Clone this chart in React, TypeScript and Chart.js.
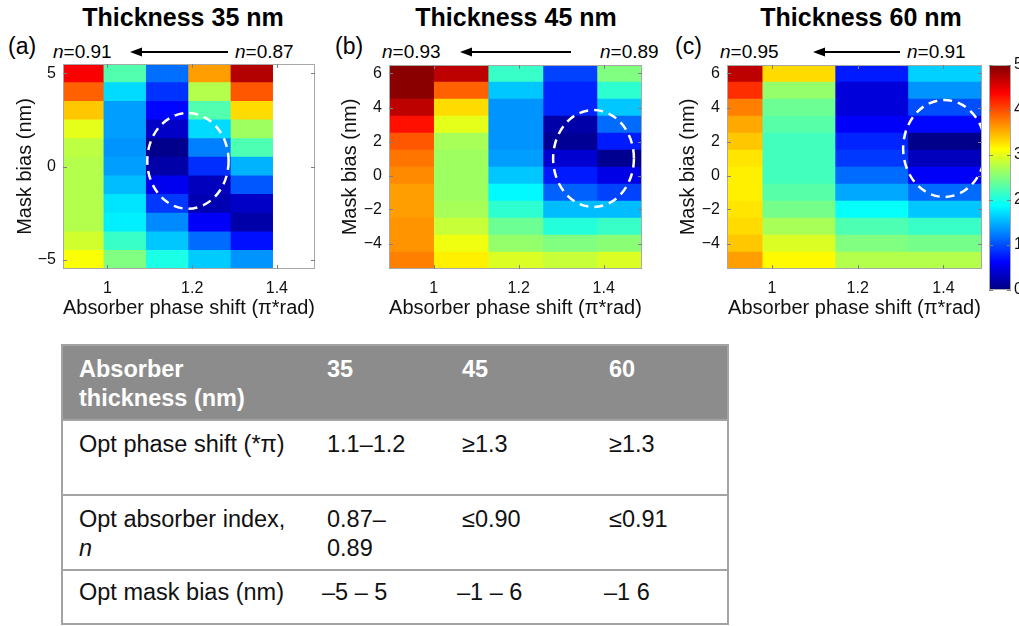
import React, { useEffect, useRef } from 'react';
import { Chart, registerables } from 'chart.js';

Chart.register(...registerables);

// ---------------- data ----------------
const phaseTicks = [1, 1.2, 1.4];
const phaseRange = [0.895, 1.49];
const colorRange = [0, 5];
const colorbarTicks = [0, 1, 2, 3, 4, 5];

const panelTitles = ['Thickness 35 nm', 'Thickness 45 nm', 'Thickness 60 nm'];
const panelLetters = ['(a)', '(b)', '(c)'];
const nLeftLabels = ['0.91', '0.93', '0.95'];
const nRightLabels = ['0.87', '0.89', '0.91'];

// Panel (a) : 35 nm
const biasA = [5, 4, 3, 2, 1, 0, -1, -2, -3, -4, -5];
const biasTicksA = [5, 0, -5];
const edgesA = [0.895, 0.99, 1.09, 1.19, 1.29, 1.39];
const a1 = [4.4, 3.9, 3.4, 3.0, 2.8, 2.75, 2.75, 2.75, 2.75, 2.9, 3.1];
const a2 = [2.27, 1.7, 1.4, 1.4, 1.35, 1.4, 1.55, 1.75, 1.8, 2.15, 2.5];
const a3 = [1.17, 0.87, 0.65, 0.35, 0.06, 0.2, 0.55, 0.9, 1.3, 1.6, 2.0];
const a4 = [3.6, 2.75, 2.27, 1.7, 1.25, 0.85, 0.3, 0.25, 0.6, 1.15, 1.62];
const a5 = [4.75, 3.95, 3.3, 2.65, 2.25, 1.5, 1.05, 0.35, 0.2, 0.7, 1.35];
const heatA = [a1, a2, a3, a4, a5];
const ellipseA = [1.19, 0.3, 0.096, 2.57]; // cx, cy, rx, ry

// Panel (b) : 45 nm
const biasB = [6, 5, 4, 3, 2, 1, 0, -1, -2, -3, -4, -5];
const biasTicksB = [6, 4, 2, 0, -2, -4];
const edgesB = [0.895, 1.0, 1.128, 1.257, 1.384, 1.49];
const b1 = [4.95, 4.95, 4.7, 4.3, 3.95, 3.8, 3.7, 3.6, 3.6, 3.65, 3.65, 3.75];
const b2 = [4.7, 3.9, 3.3, 3.0, 2.7, 2.65, 2.65, 2.65, 2.7, 2.85, 3.05, 3.2];
const b3 = [2.15, 1.6, 1.35, 1.35, 1.35, 1.4, 1.6, 1.85, 2.1, 2.4, 2.6, 2.95];
const b4 = [0.95, 0.8, 0.8, 0.2, 0.1, 0.4, 0.75, 1.1, 1.55, 2.05, 2.5, 2.85];
const b5 = [2.5, 2.1, 1.6, 1.15, 0.75, 0.08, 0.5, 0.95, 1.55, 2.15, 2.55, 2.95];
const heatB = [b1, b2, b3, b4, b5];
const ellipseB = [1.376, 1.0, 0.095, 2.85];

// Panel (c) : 60 nm
const biasC = [6, 5, 4, 3, 2, 1, 0, -1, -2, -3, -4, -5];
const biasTicksC = [6, 4, 2, 0, -2, -4];
const edgesC = [0.895, 0.977, 1.147, 1.317, 1.49];
const c1 = [4.7, 4.15, 3.75, 3.55, 3.4, 3.25, 3.2, 3.2, 3.25, 3.3, 3.4, 3.6];
const c2 = [3.3, 2.6, 2.4, 2.3, 2.2, 2.2, 2.2, 2.3, 2.45, 2.7, 2.95, 3.15];
const c3 = [0.75, 0.45, 0.45, 0.6, 0.8, 0.9, 1.15, 1.45, 1.9, 2.25, 2.5, 2.75];
const c4 = [1.65, 1.35, 1.0, 0.65, 0.05, 0.3, 0.6, 1.15, 1.6, 2.15, 2.45, 2.75];
const heatC = [c1, c2, c3, c4];
const ellipseC = [1.402, 1.59, 0.096, 2.85];

// Table
const tableHeader = ['Absorber thickness (nm)', '35', '45', '60'];
const rowPhase = ['Opt phase shift (*π)', '1.1–1.2', '≥1.3', '≥1.3'];
const rowIndexLabel = ['Opt absorber index,', 'n'];
const rowIndex = ['0.87–|0.89', '≤0.90', '≤0.91'];
const rowBias = ['Opt mask bias (nm)', '–5 – 5', '–1 – 6', '–1 6'];

// ---------------- helpers ----------------
const FONT = "'Liberation Sans', Arial, Helvetica, sans-serif";

function jet(v: number): string {
  const t = Math.max(0, Math.min(1, (v - colorRange[0]) / (colorRange[1] - colorRange[0])));
  const c = (x: number) => Math.round(255 * Math.max(0, Math.min(1, x)));
  return `rgb(${c(1.5 - Math.abs(4 * t - 3))},${c(1.5 - Math.abs(4 * t - 2))},${c(1.5 - Math.abs(4 * t - 1))})`;
}

function fmtTick(v: number): string {
  return v < 0 ? '\u2212' + String(Math.abs(v)) : String(v);
}

const framePlugin = {
  id: 'frame',
  afterDatasetsDraw(chart: any) {
    const { ctx, chartArea: a, scales } = chart;
    ctx.save();
    ctx.strokeStyle = '#a8a8a8';
    ctx.lineWidth = 1;
    ctx.strokeRect(a.left + 0.5, a.top + 0.5, a.right - a.left - 1, a.bottom - a.top - 1);
    ctx.strokeStyle = '#808080';
    ctx.beginPath();
    const x = scales.x;
    const y = scales.y;
    if (x && x.options.display !== false) {
      for (const t of x.ticks) {
        const px = Math.round(x.getPixelForValue(t.value)) + 0.5;
        ctx.moveTo(px, a.bottom);
        ctx.lineTo(px, a.bottom - 4);
        ctx.moveTo(px, a.top);
        ctx.lineTo(px, a.top + 4);
      }
    }
    if (y) {
      for (const t of y.ticks) {
        const py = Math.round(y.getPixelForValue(t.value)) + 0.5;
        ctx.moveTo(a.left, py);
        ctx.lineTo(a.left + 4, py);
        ctx.moveTo(a.right, py);
        ctx.lineTo(a.right - 4, py);
      }
    }
    ctx.stroke();
    ctx.restore();
  },
};

function makeEllipsePlugin(e: number[]) {
  return {
    id: 'dashEllipse',
    afterDatasetsDraw(chart: any) {
      const { ctx, chartArea: a, scales } = chart;
      const x = scales.x;
      const y = scales.y;
      const cx = x.getPixelForValue(e[0]);
      const cy = y.getPixelForValue(e[1]);
      const rx = Math.abs(x.getPixelForValue(e[0] + e[2]) - cx);
      const ry = Math.abs(y.getPixelForValue(e[1] + e[3]) - cy);
      ctx.save();
      ctx.beginPath();
      ctx.rect(a.left, a.top, a.right - a.left, a.bottom - a.top);
      ctx.clip();
      ctx.beginPath();
      ctx.setLineDash([9, 6]);
      ctx.strokeStyle = '#ffffff';
      ctx.lineWidth = 2.5;
      ctx.ellipse(cx, cy, rx, ry, 0, 0, Math.PI * 2);
      ctx.stroke();
      ctx.restore();
    },
  };
}

// ---------------- components ----------------
type PanelProps = {
  left: number;
  width: number;
  yWidth: number;
  padRight: number;
  padTop: number;
  yTitlePad: number;
  bias: number[];
  biasTicks: number[];
  edges: number[];
  heat: number[][];
  ellipse: number[];
};

const CANVAS_TOP = 36;
const CANVAS_H = 290;

function HeatPanel(p: PanelProps) {
  const ref = useRef<HTMLCanvasElement>(null);
  useEffect(() => {
    const ymin = Math.min(...p.bias) - 0.5;
    const ymax = Math.max(...p.bias) + 0.5;
    const chart = new Chart(ref.current as HTMLCanvasElement, {
      type: 'bar',
      data: {
        datasets: p.heat.map((col, c) => ({
          data: p.bias.map((b) => ({ y: b, x: [p.edges[c], p.edges[c + 1]] })),
          backgroundColor: col.map(jet),
          borderWidth: 0,
          grouped: false,
          categoryPercentage: 1,
          barPercentage: 1,
        })) as any,
      },
      options: {
        indexAxis: 'y',
        animation: false,
        responsive: false,
        maintainAspectRatio: false,
        events: [],
        layout: { padding: { left: 0, top: p.padTop, right: p.padRight, bottom: 0 } },
        plugins: { legend: { display: false }, tooltip: { enabled: false }, title: { display: false } },
        scales: {
          x: {
            type: 'linear',
            min: phaseRange[0],
            max: phaseRange[1],
            offset: false,
            grid: { display: false, drawTicks: false },
            border: { display: false },
            afterBuildTicks: (s: any) => {
              s.ticks = phaseTicks.map((v) => ({ value: v }));
            },
            afterFit: (s: any) => {
              s.height = 57;
            },
            ticks: {
              padding: 10,
              color: '#111',
              font: { family: FONT, size: 16 },
              maxRotation: 0,
              callback: (v: any) => fmtTick(Number(v)),
            },
            title: {
              display: true,
              text: 'Absorber phase shift (π*rad)',
              color: '#111',
              font: { family: FONT, size: 20 },
              padding: { top: 0, bottom: 6 },
            },
          },
          y: {
            type: 'linear',
            min: ymin,
            max: ymax,
            offset: false,
            grid: { display: false, drawTicks: false, offset: false },
            border: { display: false },
            afterBuildTicks: (s: any) => {
              s.ticks = p.biasTicks.map((v) => ({ value: v }));
            },
            afterFit: (s: any) => {
              s.width = p.yWidth;
            },
            ticks: {
              padding: 7,
              color: '#111',
              font: { family: FONT, size: 16 },
              callback: (v: any) => fmtTick(Number(v)),
            },
            title: {
              display: true,
              text: 'Mask bias (nm)',
              color: '#111',
              font: { family: FONT, size: 20 },
              padding: { top: p.yTitlePad, bottom: 0 },
            },
          },
        },
      } as any,
      plugins: [makeEllipsePlugin(p.ellipse), framePlugin],
    });
    return () => chart.destroy();
  }, []);
  return (
    <canvas
      ref={ref}
      width={p.width}
      height={CANVAS_H}
      style={{ position: 'absolute', left: p.left, top: CANVAS_TOP, width: p.width, height: CANVAS_H }}
    />
  );
}

function ColorBar() {
  const ref = useRef<HTMLCanvasElement>(null);
  useEffect(() => {
    const chart = new Chart(ref.current as HTMLCanvasElement, {
      type: 'bar',
      data: {
        labels: ['colour'],
        datasets: [
          {
            data: [[colorRange[0], colorRange[1]]] as any,
            borderWidth: 0,
            categoryPercentage: 1,
            barPercentage: 1,
            backgroundColor: (ctx: any) => {
              const ca = ctx.chart.chartArea;
              if (!ca) return jet(2.5);
              const g = ctx.chart.ctx.createLinearGradient(0, ca.bottom, 0, ca.top);
              [0, 0.125, 0.375, 0.625, 0.875, 1].forEach((t) => {
                g.addColorStop(t, jet(colorRange[0] + t * (colorRange[1] - colorRange[0])));
              });
              return g;
            },
          },
        ],
      },
      options: {
        animation: false,
        responsive: false,
        maintainAspectRatio: false,
        events: [],
        layout: { padding: { left: 4, top: 29, right: 0, bottom: 20 } },
        plugins: { legend: { display: false }, tooltip: { enabled: false } },
        scales: {
          x: { display: false },
          y: {
            position: 'right',
            min: colorRange[0],
            max: colorRange[1],
            grid: { display: false, drawTicks: false },
            border: { display: false },
            afterBuildTicks: (s: any) => {
              s.ticks = colorbarTicks.map((v) => ({ value: v }));
            },
            afterFit: (s: any) => {
              s.width = 8;
            },
            ticks: { padding: 3, color: '#111', font: { family: FONT, size: 16 } },
          },
        },
      } as any,
      plugins: [framePlugin],
    });
    return () => chart.destroy();
  }, []);
  return (
    <canvas
      ref={ref}
      width={34}
      height={CANVAS_H - 16}
      style={{ position: 'absolute', left: 985, top: CANVAS_TOP, width: 34, height: CANVAS_H - 16 }}
    />
  );
}

function Arrow({ tip, tail, y }: { tip: number; tail: number; y: number }) {
  return (
    <svg style={{ position: 'absolute', left: 0, top: 0, overflow: 'visible' }} width={1} height={1}>
      <line x1={tail} y1={y} x2={tip + 8} y2={y} stroke="#000" strokeWidth={1.8} />
      <polygon points={`${tip},${y} ${tip + 12},${y - 4.5} ${tip + 12},${y + 4.5}`} fill="#000" />
    </svg>
  );
}

const textBase: React.CSSProperties = {
  position: 'absolute',
  fontFamily: FONT,
  color: '#000',
  whiteSpace: 'nowrap',
  lineHeight: 1,
};

const titleCenters = [183, 516, 861];
const letterLefts = [8, 335, 675];
const nLeftLefts = [53, 382, 720];
const nRightLefts = [235, 600, 907];
const arrows = [
  { tip: 130, tail: 228 },
  { tip: 460, tail: 571 },
  { tip: 813, tail: 900 },
];

function Overlay() {
  return (
    <>
      {panelTitles.map((t, i) => (
        <div
          key={'t' + i}
          style={{ ...textBase, fontWeight: 'bold', fontSize: 25, top: 5, left: titleCenters[i] - 150, width: 300, textAlign: 'center' }}
        >
          {t}
        </div>
      ))}
      {panelLetters.map((t, i) => (
        <div key={'l' + i} style={{ ...textBase, fontSize: 23, top: 35, left: letterLefts[i] }}>
          {t}
        </div>
      ))}
      {nLeftLabels.map((t, i) => (
        <div key={'nl' + i} style={{ ...textBase, fontSize: 19, top: 42, left: nLeftLefts[i] }}>
          <i>n</i>={t}
        </div>
      ))}
      {nRightLabels.map((t, i) => (
        <div key={'nr' + i} style={{ ...textBase, fontSize: 19, top: 42, left: nRightLefts[i] }}>
          <i>n</i>={t}
        </div>
      ))}
      {arrows.map((a, i) => (
        <Arrow key={'a' + i} tip={a.tip} tail={a.tail} y={52} />
      ))}
    </>
  );
}

function DataTable() {
  const border = '2px solid #a3a3a3';
  const cell = (extra?: React.CSSProperties): React.CSSProperties => ({
    padding: '9px 4px 0 16px',
    verticalAlign: 'top',
    textAlign: 'left',
    lineHeight: '29px',
    ...extra,
  });
  return (
    <table
      style={{
        position: 'absolute',
        left: 61,
        top: 344,
        width: 666,
        borderCollapse: 'collapse',
        tableLayout: 'fixed',
        fontFamily: FONT,
        fontSize: 23.5,
        color: '#111',
        border,
      }}
    >
      <colgroup>
        <col style={{ width: 249 }} />
        <col style={{ width: 135 }} />
        <col style={{ width: 147 }} />
        <col style={{ width: 135 }} />
      </colgroup>
      <tbody>
        <tr style={{ height: 75, background: '#8c8c8c', color: '#fff', fontWeight: 'bold', borderBottom: border }}>
          <td style={cell()}>
            {tableHeader[0].split(' ')[0]}
            <br />
            {tableHeader[0].split(' ').slice(1).join(' ')}
          </td>
          {tableHeader.slice(1).map((h, i) => (
            <td key={i} style={cell()}>
              {h}
            </td>
          ))}
        </tr>
        <tr style={{ height: 75, borderBottom: border }}>
          {rowPhase.map((h, i) => (
            <td key={i} style={cell()}>
              {h}
            </td>
          ))}
        </tr>
        <tr style={{ height: 75, borderBottom: border }}>
          <td style={cell()}>
            {rowIndexLabel[0]}
            <br />
            <i>{rowIndexLabel[1]}</i>
          </td>
          {rowIndex.map((h, i) => (
            <td key={i} style={cell()}>
              {h.split('|').map((part, j) => (
                <React.Fragment key={j}>
                  {j > 0 && <br />}
                  {part}
                </React.Fragment>
              ))}
            </td>
          ))}
        </tr>
        <tr style={{ height: 54, borderBottom: border }}>
          {rowBias.map((h, i) => (
            <td key={i} style={cell({ paddingTop: 7, paddingLeft: i === 0 ? 16 : 11 })}>
              {h}
            </td>
          ))}
        </tr>
      </tbody>
    </table>
  );
}

export default function App() {
  return (
    <div
      style={{
        position: 'absolute',
        left: 0,
        top: 0,
        width: 1019,
        height: 626,
        overflow: 'hidden',
        background: '#fff',
      }}
    >
      <Overlay />
      <HeatPanel left={0} width={330} yWidth={63} padRight={15} padTop={28} yTitlePad={13} bias={biasA} biasTicks={biasTicksA} edges={edgesA} heat={heatA} ellipse={ellipseA} />
      <HeatPanel left={330} width={330} yWidth={59} padRight={18} padTop={29} yTitlePad={8} bias={biasB} biasTicks={biasTicksB} edges={edgesB} heat={heatB} ellipse={ellipseB} />
      <HeatPanel left={665} width={320} yWidth={62} padRight={3} padTop={29} yTitlePad={11} bias={biasC} biasTicks={biasTicksC} edges={edgesC} heat={heatC} ellipse={ellipseC} />
      <ColorBar />
      <DataTable />
    </div>
  );
}
